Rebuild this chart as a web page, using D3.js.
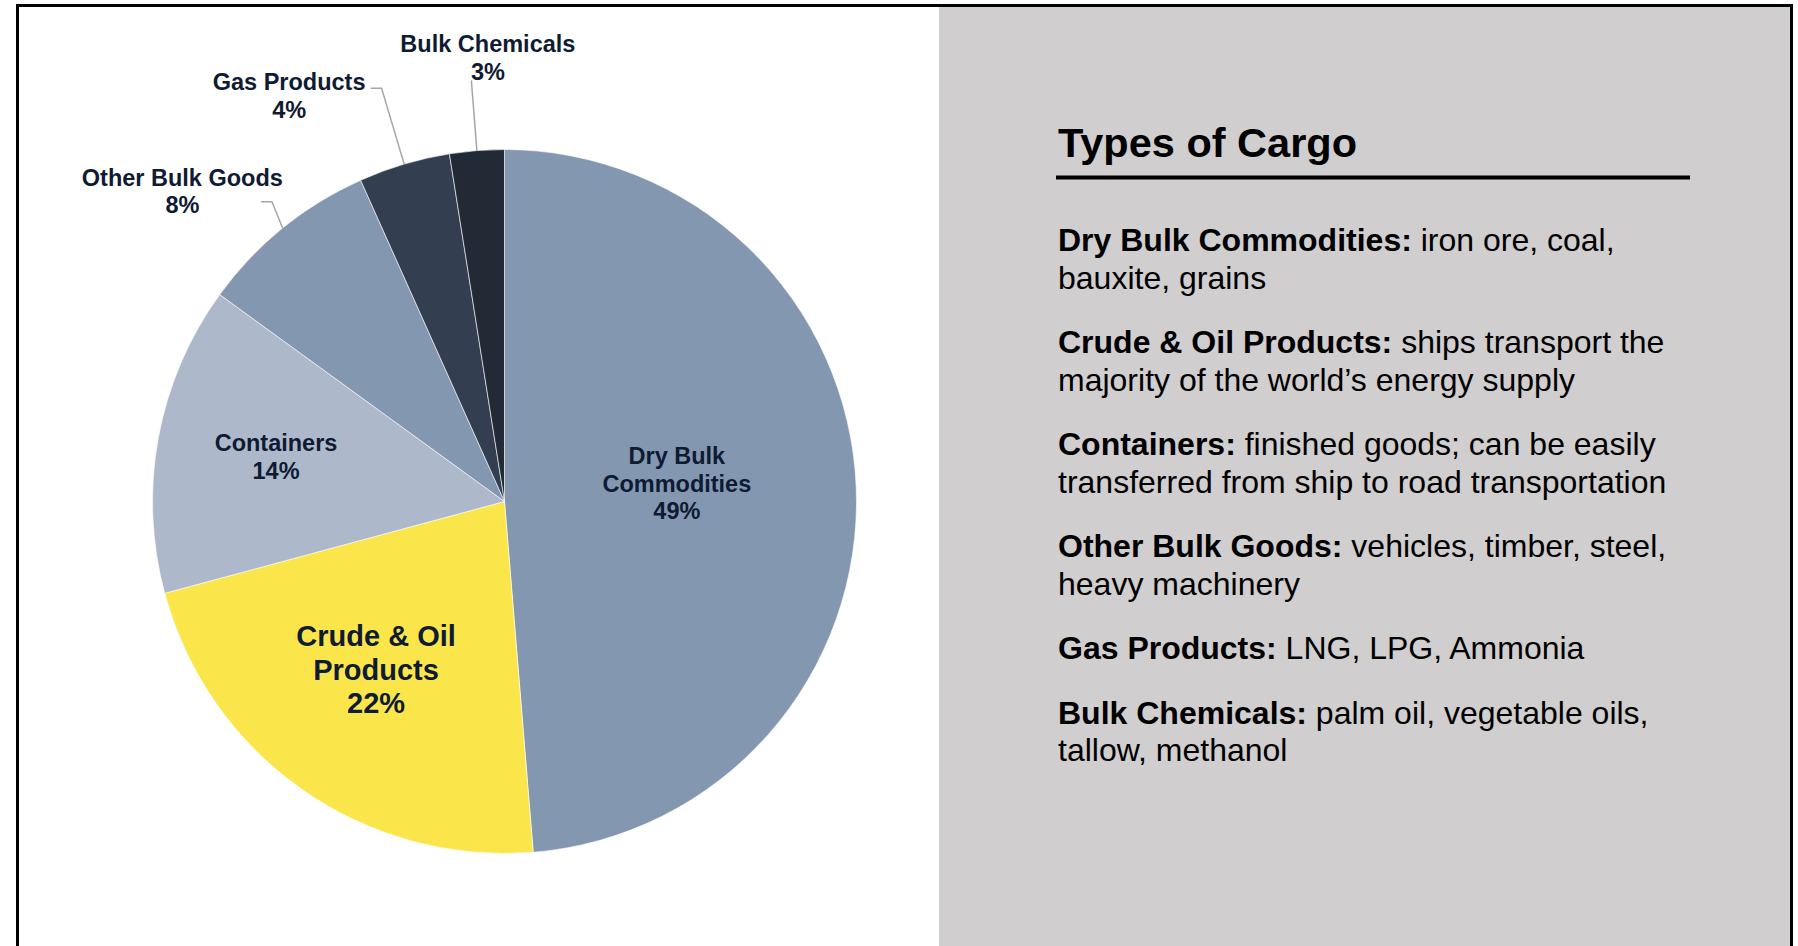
<!DOCTYPE html>
<html>
<head>
<meta charset="utf-8">
<script src="https://cdn.jsdelivr.net/npm/d3@7"></script>
<style>
  html, body { margin: 0; padding: 0; background: #fff; }
  svg { display: block; font-family: "Liberation Sans", Arial, Helvetica, sans-serif; }
  text { white-space: pre; }
</style>
</head>
<body>
<svg id="chart" width="1798" height="946"></svg>
<script>
// ---- data ----
const categories = ["Dry Bulk Commodities", "Crude & Oil Products", "Containers", "Other Bulk Goods", "Gas Products", "Bulk Chemicals"];
const shares = [48.7, 22.1, 14.2, 8.3, 4.2, 2.5];
const labelLines = [["Dry Bulk", "Commodities"], ["Crude & Oil", "Products"], ["Containers"], ["Other Bulk Goods"], ["Gas Products"], ["Bulk Chemicals"]];
const sliceColors = ["#8497B0", "#FAE64A", "#ADB9CA", "#8497B0", "#333F50", "#222A35"];

const panelTitle = "Types of Cargo";
const descLabels = ["Dry Bulk Commodities:", "Crude & Oil Products:", "Containers:", "Other Bulk Goods:", "Gas Products:", "Bulk Chemicals:"];
const descLine1 = [" iron ore, coal,", " ships transport the", " finished goods; can be easily", " vehicles, timber, steel,", " LNG, LPG, Ammonia", " palm oil, vegetable oils,"];
const descLine2 = ["bauxite, grains", "majority of the world\u2019s energy supply", "transferred from ship to road transportation", "heavy machinery", "", "tallow, methanol"];

// ---- layout (not data) ----
const W = 1798, H = 946;
const cx = 504.5, cy = 501.5, R = 352;
const labelLayout = [
  { inside: true, rf: 0.49, dx: 0, dy: -11, size: 23.5, lh: 27.5 },
  { inside: true, rf: 0.60, dx: -7, dy: -5, size: 29, lh: 33.5 },
  { inside: true, rf: 0.66, dx: 0, dy: -2.5, size: 23.5, lh: 28 },
  { inside: false, ef: 1.08, tail: 11, tx: -78.6, ty: -16, size: 23.5, lh: 27.5, shift: [7, -4.5] },
  { inside: false, ef: 1.225, tail: 11, tx: -81.5, ty: 1.5, size: 23.5, lh: 28, shift: [0, 0] },
  { inside: false, ef: 1.20, tail: 0, tx: 16.5, ty: -28, size: 23.5, lh: 27.5, shift: [0, 0] }
];

const svg = d3.select("#chart");

svg.append("rect").attr("x", 0).attr("y", 0).attr("width", W).attr("height", H).attr("fill", "#fff");
svg.append("rect").attr("x", 939).attr("y", 6).attr("width", 852).attr("height", H).attr("fill", "#D0CECF");
svg.append("rect").attr("x", 17.5).attr("y", 5.5).attr("width", 1774).attr("height", 1100)
  .attr("fill", "none").attr("stroke", "#000").attr("stroke-width", 3);

// ---- pie ----
const pie = d3.pie().sort(null).value(d => d).startAngle(0).endAngle(2 * Math.PI);
const arcs = pie(shares);
const arc = d3.arc().innerRadius(0).outerRadius(R);
const g = svg.append("g").attr("transform", `translate(${cx},${cy})`);

g.selectAll("path.slice").data(arcs).join("path")
  .attr("class", "slice")
  .attr("d", arc)
  .attr("fill", (d, i) => sliceColors[i])
  .attr("stroke", "#fff").attr("stroke-width", 0.75).attr("stroke-opacity", 0.8);

const polar = (a, r) => [r * Math.sin(a), -r * Math.cos(a)];
const labelColor = "#0F1A33";

arcs.forEach((d, i) => {
  const L = labelLayout[i];
  const mid = (d.startAngle + d.endAngle) / 2;
  const lines = labelLines[i].concat([Math.round(shares[i]) + "%"]);
  let x, y0;
  if (L.inside) {
    const p = polar(mid, L.rf * R);
    x = p[0] + L.dx;
    const cyc = p[1] + L.dy;
    const capH = L.size * 0.716;
    const blockH = capH + (lines.length - 1) * L.lh;
    y0 = cyc - blockH / 2 + capH;
  } else {
    const p0 = polar(mid, R);
    const e = polar(mid, L.ef * R);
    const p1 = [e[0] + L.shift[0], e[1] + L.shift[1]];
    const p2 = [p1[0] - L.tail, p1[1]];
    g.append("polyline")
      .attr("points", [p0, p1, p2].map(p => p.join(",")).join(" "))
      .attr("fill", "none").attr("stroke", "#A6A6A6").attr("stroke-width", 1.5);
    x = p2[0] + L.tx;
    y0 = p2[1] + L.ty;
  }
  const t = g.append("text")
    .attr("text-anchor", "middle")
    .attr("font-weight", "bold")
    .attr("font-size", L.size)
    .attr("fill", labelColor);
  lines.forEach((ln, k) => {
    t.append("tspan").attr("x", x).attr("y", y0 + k * L.lh).text(ln);
  });
});

// ---- right panel ----
const tx = 1058;
svg.append("text").attr("x", tx).attr("y", 156.5)
  .attr("font-size", 41.5).attr("font-weight", "bold").attr("fill", "#000")
  .text(panelTitle);
svg.append("line").attr("x1", 1056).attr("x2", 1690).attr("y1", 177.5).attr("y2", 177.5)
  .attr("stroke", "#000").attr("stroke-width", 4);

const lineStep = 37.8, paraGap = 26.5;
let yb = 250.8;
descLabels.forEach((lab, i) => {
  const t = svg.append("text").attr("font-size", 32).attr("fill", "#000");
  const l1 = t.append("tspan").attr("x", tx).attr("y", yb);
  l1.append("tspan").attr("font-weight", "bold").text(lab);
  l1.append("tspan").text(descLine1[i]);
  let n = 1;
  if (descLine2[i]) {
    t.append("tspan").attr("x", tx).attr("y", yb + lineStep).text(descLine2[i]);
    n = 2;
  }
  yb += n * lineStep + paraGap;
});
</script>
</body>
</html>
